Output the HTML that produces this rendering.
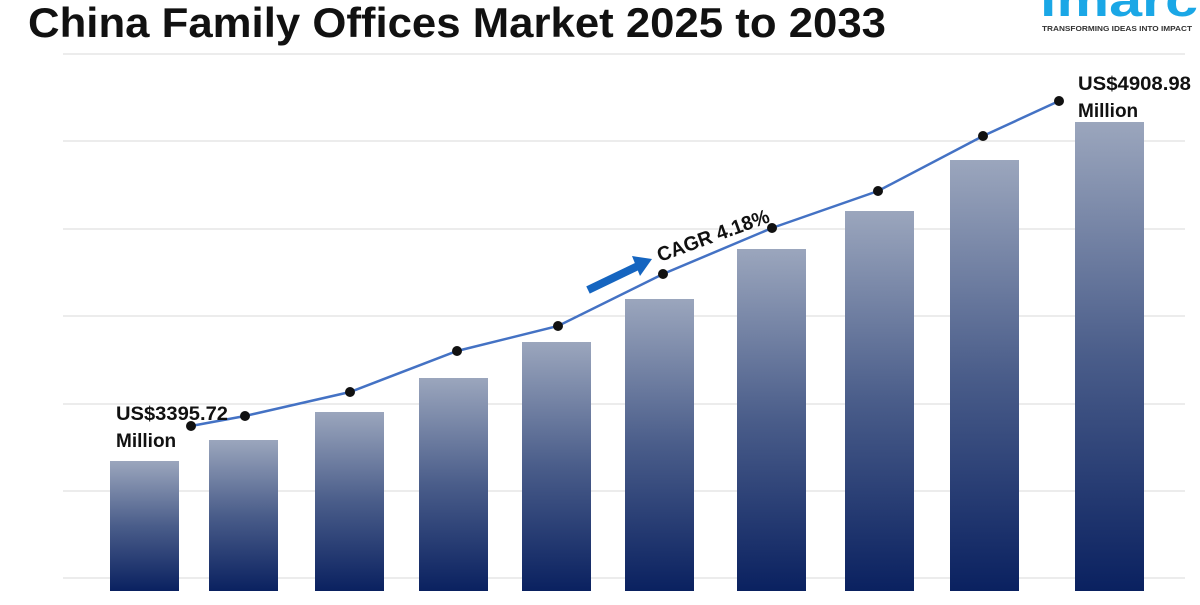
<!DOCTYPE html>
<html><head><meta charset="utf-8"><style>
body{margin:0;width:1200px;height:600px;background:#fff;overflow:hidden;font-family:"Liberation Sans",sans-serif}
</style></head><body>
<svg width="1200" height="600" xmlns="http://www.w3.org/2000/svg">
<defs>
<linearGradient id="g" x1="0" y1="0" x2="0" y2="1">
<stop offset="0" stop-color="#9ba6bd"/><stop offset="0.5" stop-color="#4a5d8a"/><stop offset="1" stop-color="#0a2160"/>
</linearGradient>
</defs>
<text x="28" y="37" font-size="42" font-weight="bold" fill="#111" textLength="858" lengthAdjust="spacingAndGlyphs">China Family Offices Market 2025 to 2033</text>
<text x="1040" y="16" font-size="46" font-weight="bold" fill="#1aa7e6" textLength="158" lengthAdjust="spacingAndGlyphs">imarc</text>
<text x="1042" y="31" font-size="7.5" font-weight="bold" fill="#333" textLength="150" lengthAdjust="spacingAndGlyphs">TRANSFORMING IDEAS INTO IMPACT</text>
<g stroke="#d9d9d9" stroke-width="1">
<line x1="63" x2="1185" y1="54" y2="54"/><line x1="63" x2="1185" y1="141" y2="141"/>
<line x1="63" x2="1185" y1="229" y2="229"/><line x1="63" x2="1185" y1="316" y2="316"/>
<line x1="63" x2="1185" y1="404" y2="404"/><line x1="63" x2="1185" y1="491" y2="491"/>
<line x1="63" x2="1185" y1="578" y2="578"/>
</g>
<g fill="url(#g)">
<rect x="110" y="461" width="69" height="130"/>
<rect x="209" y="440" width="69" height="151"/>
<rect x="315" y="412" width="69" height="179"/>
<rect x="419" y="378" width="69" height="213"/>
<rect x="522" y="342" width="69" height="249"/>
<rect x="625" y="299" width="69" height="292"/>
<rect x="737" y="249" width="69" height="342"/>
<rect x="845" y="211" width="69" height="380"/>
<rect x="950" y="160" width="69" height="431"/>
<rect x="1075" y="122" width="69" height="469"/>
</g>
<polyline fill="none" stroke="#4472c4" stroke-width="2.5" points="191,426 245,416 350,392 457,351 558,326 663,274 772,228 878,191 983,136 1059,101"/>
<g fill="#111">
<circle cx="191" cy="426" r="5"/><circle cx="245" cy="416" r="5"/><circle cx="350" cy="392" r="5"/>
<circle cx="457" cy="351" r="5"/><circle cx="558" cy="326" r="5"/><circle cx="663" cy="274" r="5"/>
<circle cx="772" cy="228" r="5"/><circle cx="878" cy="191" r="5"/><circle cx="983" cy="136" r="5"/>
<circle cx="1059" cy="101" r="5"/>
</g>
<line x1="588" y1="290" x2="638" y2="266" stroke="#1565c0" stroke-width="8"/>
<polygon points="632,256 652,259 640,276" fill="#1565c0"/>
<text x="660" y="262" font-size="20" font-weight="bold" fill="#111" transform="rotate(-20 660 262)" textLength="118" lengthAdjust="spacingAndGlyphs">CAGR 4.18%</text>
<g font-size="19" font-weight="bold" fill="#111">
<text x="116" y="420" textLength="112" lengthAdjust="spacingAndGlyphs">US$3395.72</text><text x="116" y="447">Million</text>
<text x="1078" y="90" textLength="113" lengthAdjust="spacingAndGlyphs">US$4908.98</text><text x="1078" y="117">Million</text>
</g>
</svg>
</body></html>
